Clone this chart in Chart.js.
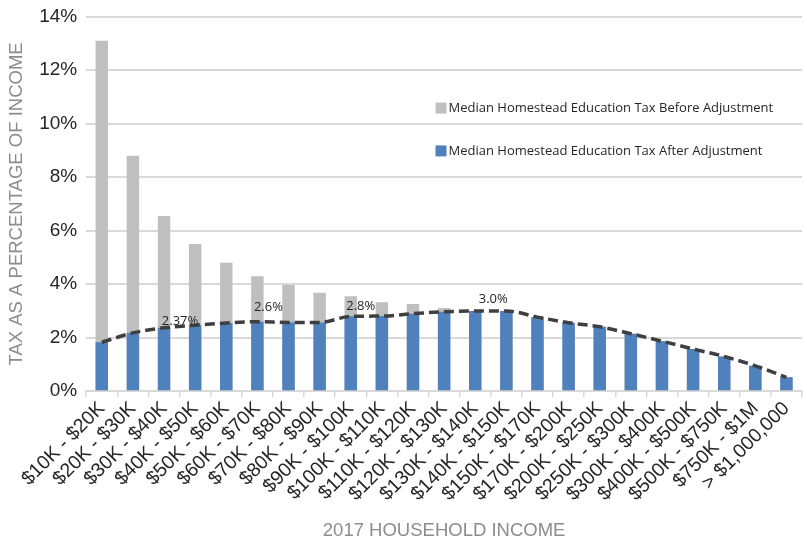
<!DOCTYPE html>
<html>
<head>
<meta charset="utf-8">
<title>Tax as a percentage of income</title>
<script src="https://cdn.jsdelivr.net/npm/chart.js@4.4.1/dist/chart.umd.min.js"></script>
<style>
  html, body { margin: 0; padding: 0; background: #fff; }
  #wrap { width: 807px; height: 542px; }
</style>
</head>
<body>
<div id="wrap"><canvas id="taxChart"></canvas></div>
<script>
const incomeBands = [
    '$10K - $20K', '$20K - $30K', '$30K - $40K', '$40K - $50K', '$50K - $60K',
    '$60K - $70K', '$70K - $80K', '$80K - $90K', '$90K - $100K', '$100K - $110K',
    '$110K - $120K', '$120K - $130K', '$130K - $140K', '$140K - $150K', '$150K - $170K',
    '$170K - $200K', '$200K - $250K', '$250K - $300K', '$300K - $400K', '$400K - $500K',
    '$500K - $750K', '$750K - $1M', '> $1,000,000'
];
// percent of income
const taxBefore = [13.1, 8.8, 6.55, 5.5, 4.8, 4.3, 3.97, 3.68, 3.55, 3.33, 3.26, 3.11,
    3.0, 3.0, 2.77, 2.56, 2.41, 2.15, 1.87, 1.58, 1.3, 0.95, 0.52];
const taxAfter = [1.83, 2.18, 2.37, 2.47, 2.55, 2.6, 2.57, 2.57, 2.8, 2.81, 2.9, 2.97,
    3.0, 3.0, 2.77, 2.56, 2.41, 2.15, 1.87, 1.58, 1.3, 0.95, 0.52];
const yTicks = [0, 2, 4, 6, 8, 10, 12, 14];

// point labels on the dashed line: index, text, offset from the point
const callouts = [
    { i: 2, text: '2.37%', dx: 16, dy: -7 },
    { i: 5, text: '2.6%', dx: 11, dy: -14 },
    { i: 8, text: '2.8%', dx: 10, dy: -10 },
    { i: 12, text: '3.0%', dx: 18, dy: -12 }
];

const legendItems = [
    { text: 'Median Homestead Education Tax Before Adjustment', color: '#bfbfbf' },
    { text: 'Median Homestead Education Tax After Adjustment', color: '#4f81bd' }
];

const overlayPlugin = {
    id: 'overlay',
    afterDatasetsDraw: function(chart) {
        const ctx = chart.ctx;
        const meta = chart.getDatasetMeta(2);
        ctx.save();
        ctx.font = '13px "Open Sans"';
        ctx.fillStyle = '#262626';
        ctx.textAlign = 'center';
        ctx.textBaseline = 'middle';
        callouts.forEach(function(c) {
            const pt = meta.data[c.i];
            ctx.fillText(c.text, pt.x + c.dx, pt.y + c.dy);
        });

        // legend inside the plot
        const area = chart.chartArea;
        const lx = area.left + (area.right - area.left) * 0.488;
        const ys = [chart.scales.y.getPixelForValue(10.6), chart.scales.y.getPixelForValue(9.0)];
        ctx.textAlign = 'left';
        ctx.font = '13px "Open Sans"';
        legendItems.forEach(function(item, k) {
            ctx.fillStyle = item.color;
            ctx.fillRect(lx, ys[k] - 5, 11, 11);
            ctx.fillStyle = '#262626';
            ctx.fillText(item.text, lx + 13, ys[k] + 1);
        });
        ctx.restore();
    }
};

const ctx = document.getElementById('taxChart').getContext('2d');
new Chart(ctx, {
    type: 'bar',
    data: {
        labels: incomeBands,
        datasets: [{
            label: legendItems[0].text,
            data: taxBefore,
            backgroundColor: '#bfbfbf',
            barPercentage: 0.4,
            categoryPercentage: 1,
            grouped: false,
            order: 3
        }, {
            label: legendItems[1].text,
            data: taxAfter,
            backgroundColor: '#4f81bd',
            barPercentage: 0.4,
            categoryPercentage: 1,
            grouped: false,
            order: 2
        }, {
            type: 'line',
            label: 'trend',
            data: taxAfter,
            borderColor: '#3f3f3f',
            borderWidth: 3.5,
            borderDash: [10, 5],
            pointRadius: 0,
            cubicInterpolationMode: 'monotone',
            fill: false,
            order: 1
        }]
    },
    options: {
        responsive: true,
        maintainAspectRatio: false,
        animation: false,
        layout: { padding: { top: 0, right: 5, bottom: 0, left: 6 } },
        plugins: {
            legend: { display: false },
            tooltip: { enabled: false }
        },
        scales: {
            x: {
                offset: true,
                grid: {
                    offset: true,
                    drawOnChartArea: false,
                    color: '#d9d9d9',
                    tickLength: 6,
                    lineWidth: 1.5
                },
                border: { color: '#d9d9d9', width: 2 },
                ticks: {
                    autoSkip: false,
                    maxRotation: 45,
                    minRotation: 45,
                    color: '#262626',
                    font: { family: 'Liberation Sans, Arial', size: 19.5 },
                    padding: 0
                },
                title: {
                    display: true,
                    text: '2017 HOUSEHOLD INCOME',
                    color: '#8c8c8c',
                    font: { family: 'Liberation Sans, Arial', size: 18.5 },
                    padding: { top: 14, bottom: 0 }
                }
            },
            y: {
                min: 0,
                max: 14,
                afterBuildTicks: function(axis) {
                    axis.ticks = yTicks.map(function(v) { return { value: v }; });
                },
                grid: {
                    color: '#d9d9d9',
                    lineWidth: 2,
                    drawTicks: false
                },
                border: { display: false },
                ticks: {
                    padding: 9,
                    color: '#262626',
                    font: { family: 'Liberation Sans, Arial', size: 19, lineHeight: 0.8 },
                    callback: function(v) { return v + '%'; }
                },
                title: {
                    display: true,
                    text: 'TAX AS A PERCENTAGE OF INCOME',
                    color: '#8c8c8c',
                    font: { family: 'Liberation Sans, Arial', size: 18.5 },
                    padding: { top: 0, bottom: 2 }
                }
            }
        }
    },
    plugins: [overlayPlugin]
});
</script>
</body>
</html>
